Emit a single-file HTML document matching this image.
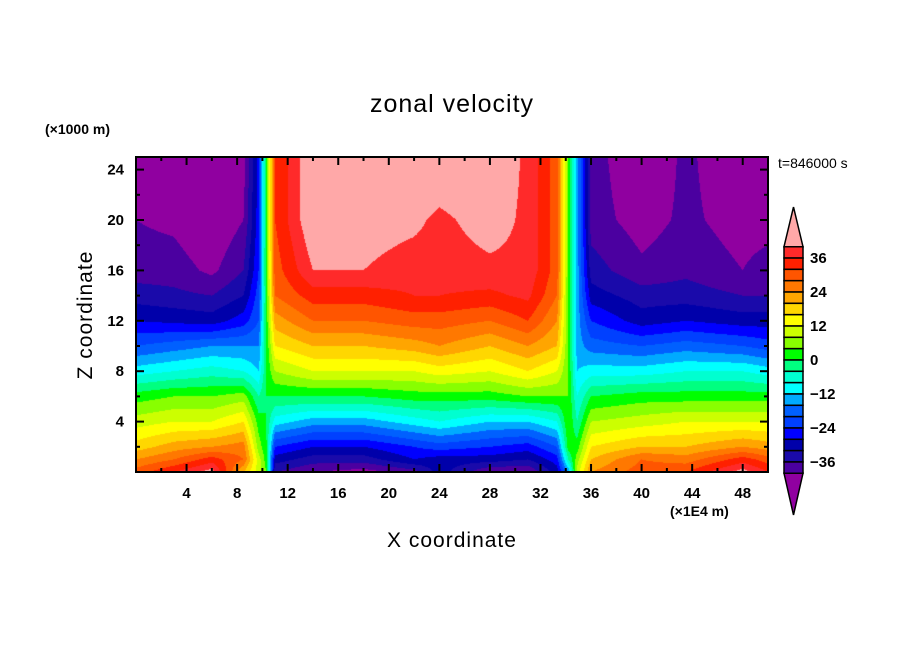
<!DOCTYPE html>
<html><head><meta charset="utf-8"><style>
body{margin:0;background:#fff;width:904px;height:654px;overflow:hidden;position:relative;font-family:"Liberation Sans",sans-serif}
#cv{position:absolute;left:136px;top:157px;width:632px;height:315px}
svg{position:absolute;left:0;top:0}
</style></head><body>
<canvas id="cv" width="632" height="315"></canvas>
<svg id="sv" width="904" height="654">
<text x="452" y="112" font-size="25" text-anchor="middle" font-family="Liberation Sans" letter-spacing="1">zonal velocity</text>
<text x="45" y="134" font-size="14" font-weight="bold">(×1000 m)</text>
<text x="778" y="168" font-size="14">t=846000 s</text>
<text x="452" y="547" font-size="21" text-anchor="middle" letter-spacing="1">X coordinate</text>
<text x="670" y="516" font-size="14" font-weight="bold">(×1E4 m)</text>
<text transform="translate(92,315) rotate(-90)" font-size="21" text-anchor="middle" letter-spacing="1">Z coordinate</text>
<g id="axes"></g><g id="cbar"></g>
</svg>
<script>
const xCols=[0,3,6,8.5,9.7,10.3,11,14,18,22,24,28,31,33.3,34.2,34.9,36,40,43.5,48,50];
const zRows=[0,1,2,4,6,8,10,12,14,16,20,25];
const colProfiles=[
[30,24,18,10,2,-10,-20,-28,-34,-38,-40,-41],
[36,28,22,12,4,-8,-18,-29,-35,-38,-41,-44],
[42,34,24,12,4,-6,-16,-30,-36,-41,-44,-44],
[20,28,26,16,6,-8,-16,-26,-32,-36,-40,-42],
[10,10,6,2,-4,-12,-16,-20,-22,-24,-26,-26],
[4,2,1,0,0,0,0,1,1,2,2,2],
[-36,-30,-24,-10,0,8,16,22,28,30,32,32],
[-40,-34,-28,-14,0,12,20,28,34,40,44,44],
[-42,-34,-28,-14,0,12,20,28,34,40,42,44],
[-38,-28,-24,-10,2,12,22,30,36,38,41,44],
[-30,-30,-22,-8,2,14,24,30,36,38,39,44],
[-40,-30,-24,-12,2,12,20,28,35,39,42,44],
[-40,-32,-26,-12,4,16,24,32,37,39,39,39],
[-30,-26,-20,-8,4,12,20,24,28,30,30,30],
[-16,-4,2,4,4,4,4,4,4,4,4,4],
[10,6,2,-4,-8,-12,-14,-14,-14,-14,-14,-14],
[24,20,16,8,0,-10,-18,-24,-30,-34,-38,-38],
[30,28,20,10,2,-10,-20,-30,-34,-39,-42,-44],
[32,26,20,12,2,-8,-18,-28,-34,-37,-39,-39],
[42,34,24,12,2,-8,-20,-30,-36,-40,-42,-44],
[36,30,22,12,2,-10,-22,-30,-36,-38,-42,-43]];
const levelColors=["#9000a0","#4b00a0","#1a0aaa","#0000aa","#0000ff","#0040ff","#0060ff","#00aaff","#00ffff","#00ffd0","#00ff80","#00ff00","#88ff00","#ccff00","#ffff00","#ffd700","#ffa500","#ff7800","#ff5500","#ff2000","#ff2a2a","#ffa8a8"];
const levelMin=-40, levelStep=4;
const xTicks=[4,8,12,16,20,24,28,32,36,40,44,48];
const zTicks=[4,8,12,16,20,24];
const cbarLabels=[36,24,12,0,-12,-24,-36];

const L=136,T=157,W=632,H=315,XMAX=50,ZMAX=25;
const sx=x=>L+x/XMAX*W, sy=z=>T+H-z/ZMAX*H;
function seg(a,v){let i=0;while(i<a.length-2&&v>a[i+1])i++;let t=(v-a[i])/(a[i+1]-a[i]);return [i,Math.max(0,Math.min(1,t))];}
function val(x,z){const [i,tx]=seg(xCols,x),[j,tz]=seg(zRows,z);
 const a=colProfiles[i][j],b=colProfiles[i+1][j],c=colProfiles[i][j+1],d=colProfiles[i+1][j+1];
 return (a*(1-tx)+b*tx)*(1-tz)+(c*(1-tx)+d*tx)*tz;}
function hex(h){return [parseInt(h.substr(1,2),16),parseInt(h.substr(3,2),16),parseInt(h.substr(5,2),16)];}
const rgb=levelColors.map(hex);
const cv=document.getElementById('cv'),ctx=cv.getContext('2d'),img=ctx.createImageData(W,H);
for(let py=0;py<H;py++)for(let px=0;px<W;px++){
 const v=val((px+0.5)/W*XMAX,(H-py-0.5)/H*ZMAX);
 let k=Math.floor((v-levelMin)/levelStep)+1;k=Math.max(0,Math.min(rgb.length-1,k));
 const o=(py*W+px)*4,c=rgb[k];img.data[o]=c[0];img.data[o+1]=c[1];img.data[o+2]=c[2];img.data[o+3]=255;}
ctx.putImageData(img,0,0);

const NS='http://www.w3.org/2000/svg';
function mk(p,tag,at){const e=document.createElementNS(NS,tag);for(const k in at)e.setAttribute(k,at[k]);p.appendChild(e);return e;}
const ax=document.getElementById('axes');
const fr=mk(ax,'rect',{x:L,y:T,width:W,height:H,fill:'none',stroke:'#000','stroke-width':2});


for(let x=2;x<XMAX;x+=2){const len=x%4===0?8:4;
 mk(ax,'line',{x1:sx(x),x2:sx(x),y1:T+H,y2:T+H-len,stroke:'#000','stroke-width':2});
 mk(ax,'line',{x1:sx(x),x2:sx(x),y1:T,y2:T+len,stroke:'#000','stroke-width':2});}
for(let z=2;z<ZMAX;z+=2){const len=z%4===0?8:4;
 mk(ax,'line',{x1:L,x2:L+len,y1:sy(z),y2:sy(z),stroke:'#000','stroke-width':2});
 mk(ax,'line',{x1:L+W,x2:L+W-len,y1:sy(z),y2:sy(z),stroke:'#000','stroke-width':2});}
xTicks.forEach(v=>{const t=mk(ax,'text',{x:sx(v),y:498,'font-size':15,'font-weight':'bold','text-anchor':'middle'});t.textContent=v;
 
 });
zTicks.forEach(v=>{const t=mk(ax,'text',{x:124,y:sy(v)+5,'font-size':15,'font-weight':'bold','text-anchor':'end'});t.textContent=v;
 
 });
const cb=document.getElementById('cbar');
const CX=784,CW=19,CT=246.7,BH=11.33,NB=20;
for(let b=0;b<NB;b++){const r=mk(cb,'rect',{x:CX,y:CT+b*BH,width:CW,height:BH,fill:levelColors[levelColors.length-2-b],stroke:'#000','stroke-width':1.5});
 
 }
const tp=mk(cb,'polygon',{points:`${CX},${CT} ${CX+CW},${CT} ${CX+CW/2},207`,fill:levelColors[levelColors.length-1],stroke:'#000','stroke-width':1.5});


const bt=mk(cb,'polygon',{points:`${CX},${CT+NB*BH} ${CX+CW},${CT+NB*BH} ${CX+CW/2},515`,fill:levelColors[0],stroke:'#000','stroke-width':1.5});


cbarLabels.forEach(v=>{const b=(40-v)/levelStep;const t=mk(cb,'text',{x:810,y:CT+b*BH+5,'font-size':15,'font-weight':'bold'});t.textContent=v<0?'\u2212'+(-v):v;
 
 });
</script>
</body></html>
